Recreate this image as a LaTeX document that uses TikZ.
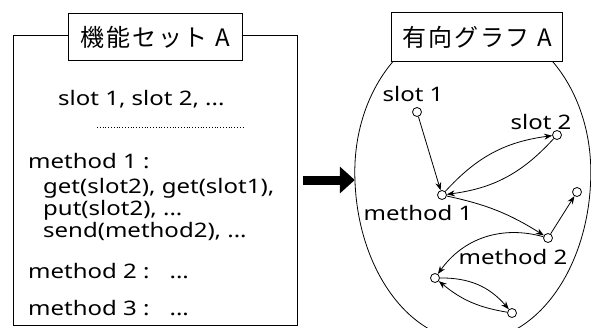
\documentclass[tikz,border=0pt]{standalone}
\usepackage{fontspec}
\setmainfont[FakeStretch=1.2]{Noto Sans}
\newfontfamily\jpfont[LetterSpace=8]{Noto Sans CJK JP}
\usetikzlibrary{arrows.meta,shapes.geometric}

\tikzset{
  txt/.style={anchor=base west, inner sep=0pt, font=\fontsize{20}{24}\selectfont},
  ttl/.style={draw, fill=white, line width=1pt, inner sep=0pt, font=\jpfont\fontsize{24}{28}\selectfont},
  vtx/.style={circle, draw, fill=white, inner sep=0pt, minimum size=9pt, line width=0.8pt},
  vlbl/.style={inner sep=0pt, font=\fontsize{20}{24}\selectfont},
  link/.style={-{Stealth[length=8pt,width=6pt]}, line width=0.8pt},
}

\begin{document}
\begin{tikzpicture}[x=1pt, y=-1pt]
\useasboundingbox (0,0) rectangle (591,327);
\clip (0,0) rectangle (591,327);

% Left: function set A
\node[draw, line width=1pt, minimum width=284pt, minimum height=290pt, inner sep=0pt] (setA) at (155,180) {};
\node[ttl, minimum width=174pt, minimum height=47pt] (titleA) at (155,37) {機能セット\hspace{0.3em}A};
\node[txt] (slots) at (58,105) {slot 1, slot 2, ...};
\draw[dotted, line width=0.8pt] (97,127) -- (243,127);
\node[txt] (meth1) at (28,168) {method 1 :};
\node[txt] (get) at (43,193) {get(slot2), get(slot1),};
\node[txt] (put) at (43,215) {put(slot2), ...};
\node[txt] (send) at (43,237) {send(method2), ...};
\node[txt] (meth2) at (28,278) {method 2 :\quad ...};
\node[txt] (meth3) at (28,315) {method 3 :\quad ...};

% Right: directed graph A (egg shape, top hidden by the title)
\node[ellipse, minimum width=236pt, minimum height=330pt, inner sep=0pt] (graphA) at (473,172) {};
\draw[line width=0.8pt] (graphA.west)
  arc[start angle=180, end angle=0, x radius=118, y radius=169]
  arc[start angle=0, end angle=-180, x radius=118, y radius=150];
\node[ttl, minimum width=171pt, minimum height=49pt] (titleB) at (477,37) {有向グラフ\hspace{0.3em}A};

% Labels
\node[vlbl] (s1lbl) at (413,94) {slot 1};
\node[vlbl] (s2lbl) at (541,122) {slot 2};
\node[vlbl] (m1lbl) at (418,213) {method 1};
\node[vlbl] (m2lbl) at (513,257) {method 2};

% Vertices
\node[vtx] (s1) at (417,112) {};
\node[vtx] (s2) at (557,135) {};
\node[vtx] (m1) at (442,195) {};
\node[vtx] (t1) at (577,192) {};
\node[vtx] (m2) at (548,238) {};
\node[vtx] (b1) at (435,278) {};
\node[vtx] (b2) at (512,313) {};

% Edges
\draw[link] (s1) -- (m1);
\draw[link] (m1) to[bend left=20] (s2);
\draw[link] (s2) to[bend left=20] (m1);
\draw[link] (m1) to[bend left=10] (m2);
\draw[link] (m2) -- (t1);
\draw[link] (m2) to[bend right=35] (b1);
\draw[link] (b1) to[bend left=25] (b2);
\draw[link] (b2) to[bend left=15] (b1);

% Mapping arrow
\draw[line width=9pt, -{Triangle[length=15pt,width=26pt]}] ([xshift=5pt]setA.east) -- (setA.east -| graphA.west);

\end{tikzpicture}
\end{document}
